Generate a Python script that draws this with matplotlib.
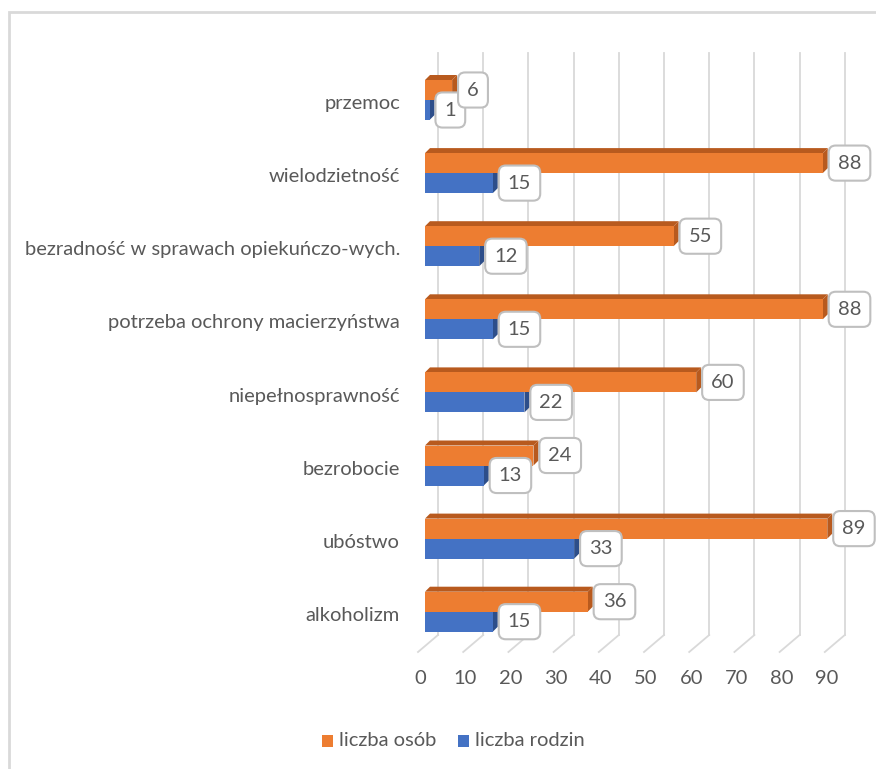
import matplotlib.pyplot as plt
from matplotlib.patches import Polygon, Rectangle

kategorie = ["przemoc", "wielodzietność", "bezradność w sprawach opiekuńczo-wych.",
             "potrzeba ochrony macierzyństwa", "niepełnosprawność", "bezrobocie",
             "ubóstwo", "alkoholizm"]
liczba_osob = [6, 88, 55, 88, 60, 24, 89, 36]
liczba_rodzin = [1, 15, 12, 15, 22, 13, 33, 15]
ticki = [0, 10, 20, 30, 40, 50, 60, 70, 80, 90]

POMARANCZ, POMARANCZ_CIEN = "#ED7D31", "#B85A1E"
NIEBIESKI, NIEBIESKI_CIEN = "#4472C4", "#2D4E8A"
SZARY_TEKST = "#595959"
SIATKA = "#D9D9D9"

W, H, DPI = 876, 769, 100
PX_X = 4.52      # px na jednostke wartosci
PX_Y = 73.1      # px na kategorie
X0, Y0 = 425, 100  # piksel: wartosc 0, srodek pierwszej kategorii

plt.rcParams['font.family'] = ['Lato', 'DejaVu Sans']

fig = plt.figure(figsize=(W / DPI, H / DPI), dpi=DPI)
ax = fig.add_axes([0, 0, 1, 1])
ax.set_xlim(-X0 / PX_X, (W - X0) / PX_X)
ax.set_ylim((H - Y0) / PX_Y, -Y0 / PX_Y)
ax.axis("off")

# ramka wykresu
fig.patches.append(Rectangle((9 / W, -0.1), 1.2, (H - 12) / H + 0.1, transform=fig.transFigure,
                             fill=False, edgecolor=SIATKA, linewidth=2))

dx = 5 / PX_X    # glebokosc 3D w prawo
dy = 5 / PX_Y    # glebokosc 3D w gore
h = 20 / PX_Y    # wysokosc slupka

# siatka z "podloga"
g_top = (53 - Y0) / PX_Y
g_bot = (635 - Y0) / PX_Y
f_bot = (652 - Y0) / PX_Y
back = 13 / PX_X
front = -7 / PX_X
for t in ticki:
    ax.plot([t + back, t + back], [g_top, g_bot], color=SIATKA, lw=1.3, zorder=1)
    ax.plot([t + back, t + front], [g_bot, f_bot], color=SIATKA, lw=1.3, zorder=1)
    ax.text(t - 5 / PX_X, (678 - Y0) / PX_Y, str(t), ha="center", va="center",
            fontsize=14.5, color=SZARY_TEKST)

pos = list(range(len(kategorie)))
y_os = [p - h / 2 for p in pos]
y_rodz = [p + h / 2 for p in pos]


def slupki_3d(ys, vals, kolor, cien):
    ax.barh(ys, vals, height=h, color=kolor, zorder=3, linewidth=0)
    for y, v in zip(ys, vals):
        top, bot = y - h / 2, y + h / 2
        ax.add_patch(Polygon([(0, top), (v, top), (v + dx, top - dy), (dx, top - dy)],
                             closed=True, color=cien, lw=0, zorder=2))
        ax.add_patch(Polygon([(v, top), (v + dx, top - dy), (v + dx, bot - dy), (v, bot)],
                             closed=True, color=cien, lw=0, zorder=2))


slupki_3d(y_rodz, liczba_rodzin, NIEBIESKI, NIEBIESKI_CIEN)
slupki_3d(y_os, liczba_osob, POMARANCZ, POMARANCZ_CIEN)

box = dict(boxstyle="round,pad=0.45,rounding_size=0.35", facecolor="white",
           edgecolor="#BFBFBF", linewidth=1.5)
for ys, vals, z in ((y_rodz, liczba_rodzin, 5), (y_os, liczba_osob, 6)):
    for y, v in zip(ys, vals):
        ax.text(v + dx + 10 / PX_X, y, str(v), ha="left", va="center", fontsize=14.5,
                color=SZARY_TEKST, bbox=box, zorder=z)

for p, k in zip(pos, kategorie):
    ax.text(-25 / PX_X, p + 0.05, k, ha="right", va="center", fontsize=14.5, color=SZARY_TEKST)

# legenda
leg_y = (741 - Y0) / PX_Y
for x_px, kolor, nazwa in ((322, POMARANCZ, "liczba osób"), (458, NIEBIESKI, "liczba rodzin")):
    ax.add_patch(Rectangle(((x_px - X0) / PX_X, leg_y - 6 / PX_Y), 11 / PX_X, 12 / PX_Y,
                           color=kolor, lw=0))
    ax.text((x_px + 17 - X0) / PX_X, leg_y, nazwa, ha="left", va="center", fontsize=14.5,
            color=SZARY_TEKST)

fig.savefig("out.png", dpi=DPI)
